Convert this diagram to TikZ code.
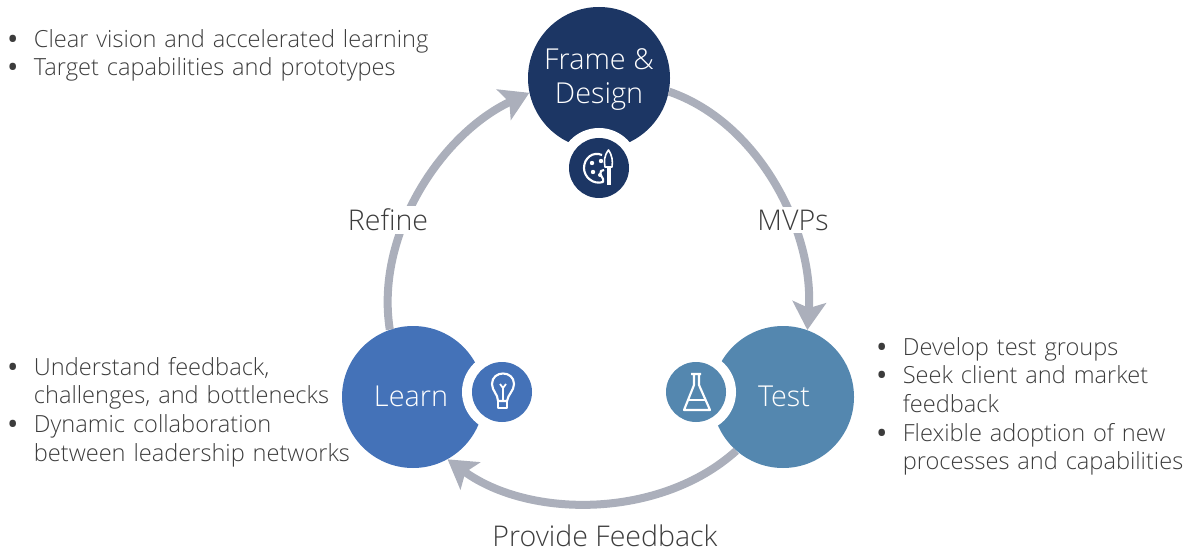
\documentclass[tikz,border=0pt]{standalone}
\usepackage{fontspec}
\setmainfont{Open Sans Light}
\newfontfamily\bulfont{Open Sans}[UprightFont=* Bold]
\usetikzlibrary{arrows.meta}
\definecolor{framecol}{HTML}{1C3664}
\definecolor{learncol}{HTML}{4472B8}
\definecolor{testcol}{HTML}{5487AF}
\definecolor{flowcol}{HTML}{ABAFBB}
\definecolor{textcol}{HTML}{3C3C3C}
\newcommand{\bulitem}[1]{\hangindent=19.2pt\hangafter=1\noindent\makebox[19.2pt][l]{{\bulfont\textbullet}}#1\par}
\tikzset{
    bigcircle/.style={circle,minimum size=106.5pt,inner sep=0pt,align=center,text=white,font=\fontsize{21.6}{25.5}\selectfont},
    bigtext/.style={inner sep=0pt,align=center,text=white,font=\fontsize{21.6}{25.5}\selectfont},
    iconcircle/.style={circle,minimum size=45pt,inner sep=0pt},
    ringgap/.style={circle,fill=white,minimum size=60pt,inner sep=0pt},
    flow/.style={draw=flowcol,line width=6pt,looseness=0.9,-{Stealth[length=21pt,width=25pt,inset=4.5pt]}},
    flowlabel/.style={fill=white,text=textcol,inner sep=2pt,font=\fontsize{21.4}{25}\selectfont},
    bulletlist/.style={anchor=north west,inner sep=0pt,text=textcol,text width=#1,font=\fontsize{17.7}{21.5}\selectfont},
    iconline/.style={draw=white,line width=1.6pt,line join=round},
}
\begin{document}
\begin{tikzpicture}[x=0.75pt,y=-0.75pt]
    \useasboundingbox (0,0) rectangle (1201,552);

    % main circles
    \node[bigcircle,fill=framecol] (frame) at (599,78) {};
    \node[bigtext] (framename) at (599,79.6) {Frame \&\\Design};
    \node[bigcircle,fill=learncol] (learn) at (413,397) {};
    \node[bigtext] (learnname) at (411,396) {Learn};
    \node[bigcircle,fill=testcol] (test) at (783,397) {};
    \node[bigtext] (testname) at (784,396) {Test};

    % arrows of the cycle
    \draw[flow] (frame.-11) to[out=-19,in=86] (test.70);
    \draw[flow] (test.229) to[out=-138,in=-36] (learn.-61);
    \draw[flow] (learn.109) to[out=99,in=205] (frame.192);

    % small circles with the gap around them
    \node[ringgap] (framegap) at (599,168) {};
    \node[ringgap] (learngap) at (502,392) {};
    \node[ringgap] (testgap) at (696,392) {};
    \node[iconcircle,fill=framecol] (frameicon) at (599,168) {};
    \node[iconcircle,fill=learncol] (learnicon) at (502,392) {};
    \node[iconcircle,fill=testcol] (testicon) at (696,392) {};

    % palette
    \draw[iconline] (602,155) .. controls (593,151) and (584,158) .. (584,168)
        .. controls (584,177) and (593,185) .. (603,182)
        .. controls (605,178) and (598,175) .. (601,171) -- (604,170);
    \fill[white] (592,163) circle (2.2) (601,161) circle (2.2) (593,172) circle (2.2) (600,175) circle (2);
    \draw[iconline,line width=1.2pt] (608.5,150) .. controls (604,156) and (604,161) .. (605,167) -- (612,167)
        .. controls (613,161) and (612,155) .. (608.5,150) -- cycle;
    \fill[white] (606.5,167) rectangle (610.5,185);

    % bulb
    \draw[iconline] (498,401) .. controls (498,394) and (492,391) .. (492,384)
        .. controls (492,370) and (514,370) .. (514,384)
        .. controls (514,391) and (508,394) .. (507,401) -- cycle;
    \draw[iconline] (498,401) rectangle (507,408);
    \draw[iconline,line width=1.3pt] (503,400) -- (503,388) (500,384) -- (503,388) -- (506,384);

    % flask
    \draw[iconline] (691,374) -- (701,374) (694,374) -- (694,385) -- (684,410) -- (710,410) -- (699,385) -- (699,374);
    \draw[iconline] (688,400) -- (706,400);

    % labels of the arrows
    \node[flowlabel] (refine) at (388,220) {Refine};
    \node[flowlabel] (mvps) at (793,220) {MVPs};
    \node[flowlabel,fill=none,inner sep=0pt] (feedback) at (605,536) {Provide Feedback};

    % bullet lists
    \node[bulletlist=400pt] (framelist) at (8,29) {\bulitem{Clear vision and accelerated learning}\bulitem{Target capabilities and prototypes}};
    \node[bulletlist=300pt] (learnlist) at (8,357) {\bulitem{Understand feedback,\newline challenges, and bottlenecks}\bulitem{Dynamic collaboration\newline between leadership networks}};
    \node[bulletlist=300pt] (testlist) at (877,337) {\bulitem{Develop test groups}\bulitem{Seek client and market\newline feedback}\bulitem{Flexible adoption of new\newline processes and capabilities}};
\end{tikzpicture}
\end{document}
